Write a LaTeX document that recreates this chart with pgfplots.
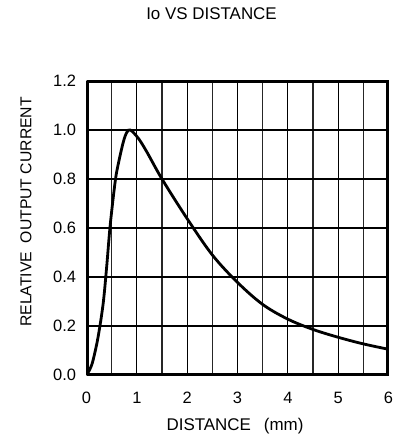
\documentclass[border=0pt]{standalone}
\usepackage{fontspec}
\setmainfont{Liberation Sans}
\usepackage{pgfplots}
\pgfplotsset{compat=1.18}

\begin{document}
\begin{tikzpicture}[x=1bp,y=1bp]
\useasboundingbox (0,0) rectangle (403,-437);
% title and axis labels
\node[anchor=base, font=\fontsize{17}{19}\selectfont] at (211.5,-20) {Io VS DISTANCE};
\node[anchor=base, font=\fontsize{17}{19}\selectfont] at (235,-430) {DISTANCE\hspace{13bp}(mm)};
\node[font=\fontsize{15.8}{18}\selectfont, rotate=90] at (26,-212) {RELATIVE\ \ OUTPUT CURRENT};
\begin{axis}[
    at={(86.5bp,-375bp)}, anchor=south west,
    scale only axis,
    width=302bp, height=294bp,
    xmin=0, xmax=6, ymin=0, ymax=1.2,
    xtick={0,1,...,6},
    minor xtick={0.5,1.5,...,5.5},
    ytick={0,0.2,...,1.2},
    /pgf/number format/assume math mode=true,
    ticklabel style={font=\fontsize{16.5}{18}\selectfont},
    xticklabel style={anchor=base, yshift=-28bp},
    yticklabel style={anchor=east, xshift=-7bp,
        /pgf/number format/.cd, fixed, fixed zerofill, precision=1},
    major tick length=0pt, minor tick length=0pt,
    grid=both,
    major grid style={black, line width=1.1bp},
    minor grid style={black!85, line width=1.1bp},
    axis line style={draw=none},
]
\addplot[black, line width=2.8bp, smooth, tension=0.55] coordinates {
(0,0) (0.07,0.025) (0.13,0.06) (0.23,0.155) (0.33,0.29) (0.40,0.44)
(0.47,0.61) (0.57,0.79) (0.63,0.86) (0.73,0.95) (0.80,0.99) (0.87,1.0)
(1.03,0.966) (1.2,0.91) (1.5,0.80) (2.0,0.638) (2.5,0.49) (3.0,0.378)
(3.5,0.288) (4.0,0.228) (4.5,0.186) (5.0,0.154) (5.5,0.127) (6.0,0.105)
};
\draw[black, line width=5bp] (rel axis cs:0,0) rectangle (rel axis cs:1,1);
\end{axis}
\end{tikzpicture}
\end{document}
